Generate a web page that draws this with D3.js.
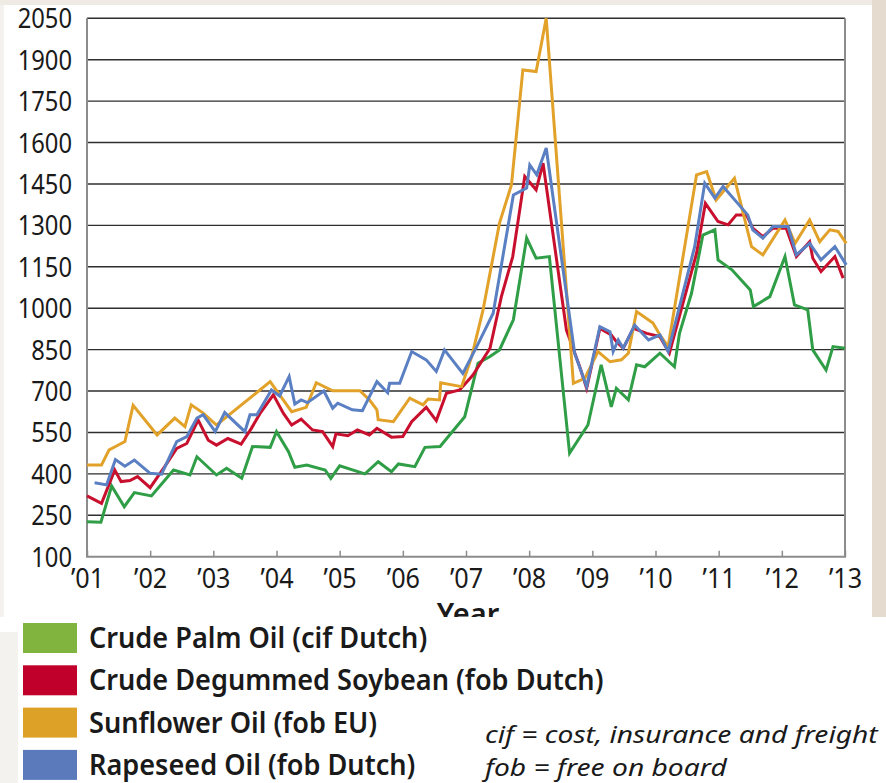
<!doctype html>
<html>
<head>
<meta charset="utf-8">
<script src="https://cdn.jsdelivr.net/npm/d3@7"></script>
<style>
  html, body { margin: 0; padding: 0; background: #f4f2ee; }
  svg { display: block; font-family: "Noto Sans", sans-serif; }
</style>
</head>
<body>
<script>
// Vegetable oil prices, US$/tonne
const palm = [
  [2001.00, 227], [2001.22, 225], [2001.39, 356], [2001.59, 281], [2001.75, 332], [2002.02, 320],
  [2002.37, 414], [2002.63, 396], [2002.74, 462], [2003.05, 396], [2003.21, 420], [2003.45, 384],
  [2003.62, 499], [2003.90, 496], [2004.00, 553], [2004.19, 480], [2004.29, 424], [2004.48, 432],
  [2004.77, 414], [2004.86, 384], [2005.00, 429], [2005.40, 400], [2005.61, 444], [2005.82, 408],
  [2005.93, 436], [2006.19, 426], [2006.35, 496], [2006.59, 499], [2006.74, 541], [2006.98, 607],
  [2007.19, 801], [2007.38, 825], [2007.53, 849], [2007.75, 958], [2007.96, 1254], [2008.11, 1181],
  [2008.32, 1187], [2008.64, 475], [2008.93, 577], [2009.14, 795], [2009.30, 643], [2009.38, 710],
  [2009.57, 668], [2009.70, 795], [2009.83, 788], [2010.07, 837], [2010.30, 788], [2010.38, 909],
  [2010.57, 1054], [2010.75, 1265], [2010.94, 1284], [2010.99, 1175], [2011.21, 1139], [2011.50, 1066],
  [2011.55, 1006], [2011.81, 1042], [2012.05, 1187], [2012.20, 1012], [2012.41, 994], [2012.49, 849],
  [2012.70, 776], [2012.81, 861], [2013.00, 855]
];
const soybean = [
  [2001.00, 320], [2001.23, 293], [2001.44, 414], [2001.54, 372], [2001.68, 376], [2001.80, 390],
  [2002.00, 350], [2002.23, 426], [2002.42, 492], [2002.58, 510], [2002.76, 595], [2002.92, 522],
  [2003.05, 504], [2003.23, 528], [2003.44, 508], [2003.60, 564], [2003.74, 619], [2003.95, 686],
  [2004.11, 619], [2004.24, 577], [2004.39, 598], [2004.57, 559], [2004.73, 553], [2004.89, 499],
  [2004.94, 545], [2005.13, 538], [2005.28, 559], [2005.47, 541], [2005.59, 565], [2005.82, 533],
  [2006.00, 535], [2006.14, 589], [2006.37, 641], [2006.53, 593], [2006.69, 692], [2006.90, 704],
  [2007.11, 758], [2007.38, 855], [2007.56, 1042], [2007.74, 1187], [2007.93, 1477], [2008.11, 1429],
  [2008.22, 1525], [2008.59, 921], [2008.80, 788], [2008.91, 710], [2009.12, 927], [2009.30, 903],
  [2009.38, 879], [2009.49, 855], [2009.65, 927], [2009.86, 909], [2010.07, 897], [2010.22, 837],
  [2010.65, 1199], [2010.79, 1380], [2010.99, 1314], [2011.15, 1302], [2011.28, 1338], [2011.44, 1338],
  [2011.54, 1290], [2011.70, 1259], [2011.86, 1290], [2012.07, 1290], [2012.23, 1187], [2012.44, 1241],
  [2012.49, 1181], [2012.62, 1133], [2012.84, 1187], [2012.97, 1109]
];
const sunflower = [
  [2001.00, 432], [2001.23, 432], [2001.35, 487], [2001.46, 500], [2001.60, 517], [2001.73, 648],
  [2002.11, 541], [2002.39, 602], [2002.55, 571], [2002.65, 650], [2002.84, 620], [2003.05, 577],
  [2003.90, 734], [2004.24, 625], [2004.47, 641], [2004.63, 730], [2004.89, 701], [2005.32, 701],
  [2005.47, 668], [2005.59, 632], [2005.61, 596], [2005.85, 589], [2006.11, 674], [2006.32, 650],
  [2006.40, 671], [2006.58, 668], [2006.60, 730], [2006.93, 716], [2007.09, 825], [2007.27, 994],
  [2007.53, 1308], [2007.72, 1447], [2007.90, 1863], [2008.11, 1857], [2008.27, 2050], [2008.70, 728],
  [2008.88, 746], [2009.09, 843], [2009.28, 806], [2009.46, 813], [2009.57, 837], [2009.70, 988],
  [2009.96, 946], [2010.07, 903], [2010.20, 861], [2010.65, 1483], [2010.81, 1495], [2010.96, 1392],
  [2011.25, 1471], [2011.52, 1223], [2011.70, 1193], [2012.05, 1320], [2012.21, 1235], [2012.44, 1320],
  [2012.60, 1241], [2012.76, 1284], [2012.89, 1278], [2013.02, 1235]
];
const rapeseed = [
  [2001.12, 368], [2001.31, 360], [2001.45, 452], [2001.60, 428], [2001.75, 450], [2002.00, 402],
  [2002.18, 399], [2002.42, 517], [2002.58, 535], [2002.74, 602], [2002.84, 614], [2003.03, 553],
  [2003.18, 622], [2003.50, 553], [2003.58, 614], [2003.69, 614], [2003.92, 704], [2004.05, 682],
  [2004.20, 752], [2004.29, 653], [2004.39, 668], [2004.49, 658], [2004.75, 700], [2004.89, 638],
  [2004.97, 656], [2005.20, 632], [2005.36, 629], [2005.59, 734], [2005.76, 694], [2005.79, 728],
  [2005.95, 728], [2006.14, 843], [2006.37, 813], [2006.53, 771], [2006.66, 849], [2006.95, 764],
  [2007.17, 861], [2007.43, 982], [2007.75, 1410], [2007.96, 1435], [2008.01, 1519], [2008.12, 1483],
  [2008.27, 1580], [2008.72, 837], [2008.91, 716], [2009.12, 933], [2009.28, 915], [2009.33, 843],
  [2009.41, 885], [2009.49, 855], [2009.67, 939], [2009.89, 885], [2010.07, 903], [2010.20, 843],
  [2010.62, 1223], [2010.78, 1453], [2010.94, 1399], [2011.07, 1441], [2011.46, 1338], [2011.54, 1284],
  [2011.70, 1254], [2011.86, 1296], [2012.10, 1296], [2012.23, 1193], [2012.44, 1235], [2012.62, 1175],
  [2012.84, 1223], [2013.02, 1157]
];

const yTicks = d3.range(100, 2051, 150);
const xTicks = d3.range(2001, 2014);
const yearLabel = (d) => "\u2019" + String(d).slice(2);

const seriesNames = ["Crude Palm Oil (cif Dutch)", "Crude Degummed Soybean (fob Dutch)", "Sunflower Oil (fob EU)", "Rapeseed Oil (fob Dutch)"];
const lineColors = ["#2f9e46", "#c8102e", "#e2a22a", "#5a7fc2"];
const swatchColors = ["#80b43f", "#c0002a", "#dea128", "#5a7abb"];
const notes = ["cif = cost, insurance and freight", "fob = free on board"];

const width = 886;
const height = 783;

const x = d3.scaleLinear([2001, 2013], [87, 845]);
const y = d3.scaleLinear([100, 2050], [556.7, 18.3]);

const svg = d3.select("body").append("svg")
    .attr("width", width)
    .attr("height", height);

// page background panels
svg.append("rect").attr("x", 4).attr("y", 5).attr("width", 868).attr("height", 612).attr("fill", "#fff");
svg.append("rect").attr("x", 872).attr("y", 0).attr("width", 14).attr("height", 617).attr("fill", "#e5dccf");
svg.append("rect").attr("x", 0).attr("y", 0).attr("width", 872).attr("height", 5).attr("fill", "#efebe4");

// grid
svg.append("g")
    .attr("stroke", "#2e2e2e")
    .attr("stroke-width", 1.4)
  .selectAll("line")
  .data(yTicks.filter((d) => d > 100))
  .join("line")
    .attr("x1", x(2001))
    .attr("x2", x(2013))
    .attr("y1", (d) => y(d))
    .attr("y2", (d) => y(d));

// frame sides
svg.append("path")
    .attr("fill", "none")
    .attr("stroke", "#8c8c8c")
    .attr("stroke-width", 2)
    .attr("d", `M${x(2001)},${y(2050)}V${y(100)}H${x(2013)}V${y(2050)}`);

// y axis
const yAxis = svg.append("g")
    .attr("transform", `translate(${x(2001)},0)`)
    .call(d3.axisLeft(y).tickValues(yTicks).tickFormat(d3.format("d")).tickSize(0).tickPadding(0));
yAxis.select(".domain").remove();
yAxis.selectAll("text")
    .attr("x", -15 / 0.88)
    .attr("dy", "0.35em")
    .attr("transform", "scale(0.88,1)")
    .attr("fill", "#1a1a1a")
    .style("font-size", "27px")
    .style("font-family", "'Noto Sans', sans-serif");

// x axis (ticks point up into the plot)
const xAxis = svg.append("g")
    .attr("transform", `translate(0,${y(100)})`)
    .call(d3.axisBottom(x).tickValues(xTicks).tickFormat(yearLabel).tickSize(-6).tickPadding(0));
xAxis.select(".domain").remove();
xAxis.selectAll("line").attr("stroke", "#8c8c8c").attr("stroke-width", 1.5);
xAxis.selectAll("text")
    .attr("x", 0)
    .attr("y", 31)
    .attr("dy", 0)
    .attr("transform", "scale(0.9,1)")
    .attr("fill", "#1a1a1a")
    .style("font-size", "28px")
    .style("font-family", "'Noto Sans', sans-serif");

// lines
const line = d3.line().x((d) => x(d[0])).y((d) => y(d[1]));
svg.append("g")
    .attr("fill", "none")
    .attr("stroke-width", 3)
    .attr("stroke-linejoin", "miter")
  .selectAll("path")
  .data([palm, soybean, sunflower, rapeseed])
  .join("path")
    .attr("stroke", (d, i) => lineColors[i])
    .attr("d", line);

// axis title, partly hidden by the legend panel
svg.append("text")
    .attr("x", 468)
    .attr("y", 624)
    .attr("text-anchor", "middle")
    .attr("font-size", 29)
    .attr("font-weight", 600)
    .attr("fill", "#1a1a1a")
    .text("Year");

// legend panel
svg.append("rect").attr("x", 18).attr("y", 617).attr("width", 868).attr("height", 166).attr("fill", "#fff");
svg.append("rect").attr("x", 0).attr("y", 617).attr("width", 18).attr("height", 15).attr("fill", "#fff");

const legend = svg.append("g")
  .selectAll("g")
  .data(seriesNames)
  .join("g")
    .attr("transform", (d, i) => `translate(23,${623 + i * 42.3})`);
legend.append("rect")
    .attr("width", 54)
    .attr("height", 30)
    .attr("fill", (d, i) => swatchColors[i]);
legend.append("text")
    .attr("transform", "translate(66,25) scale(0.935,1)")
    .attr("font-size", 29)
    .attr("font-weight", 600)
    .attr("fill", "#1a1a1a")
    .text((d) => d);

svg.append("g")
  .selectAll("text")
  .data(notes)
  .join("text")
    .attr("transform", (d, i) => `translate(485,${743 + i * 33}) scale(1.175,1)`)
    .attr("font-size", 24)
    .attr("font-style", "italic")
    .attr("fill", "#1a1a1a")
    .text((d) => d);
</script>
</body>
</html>
